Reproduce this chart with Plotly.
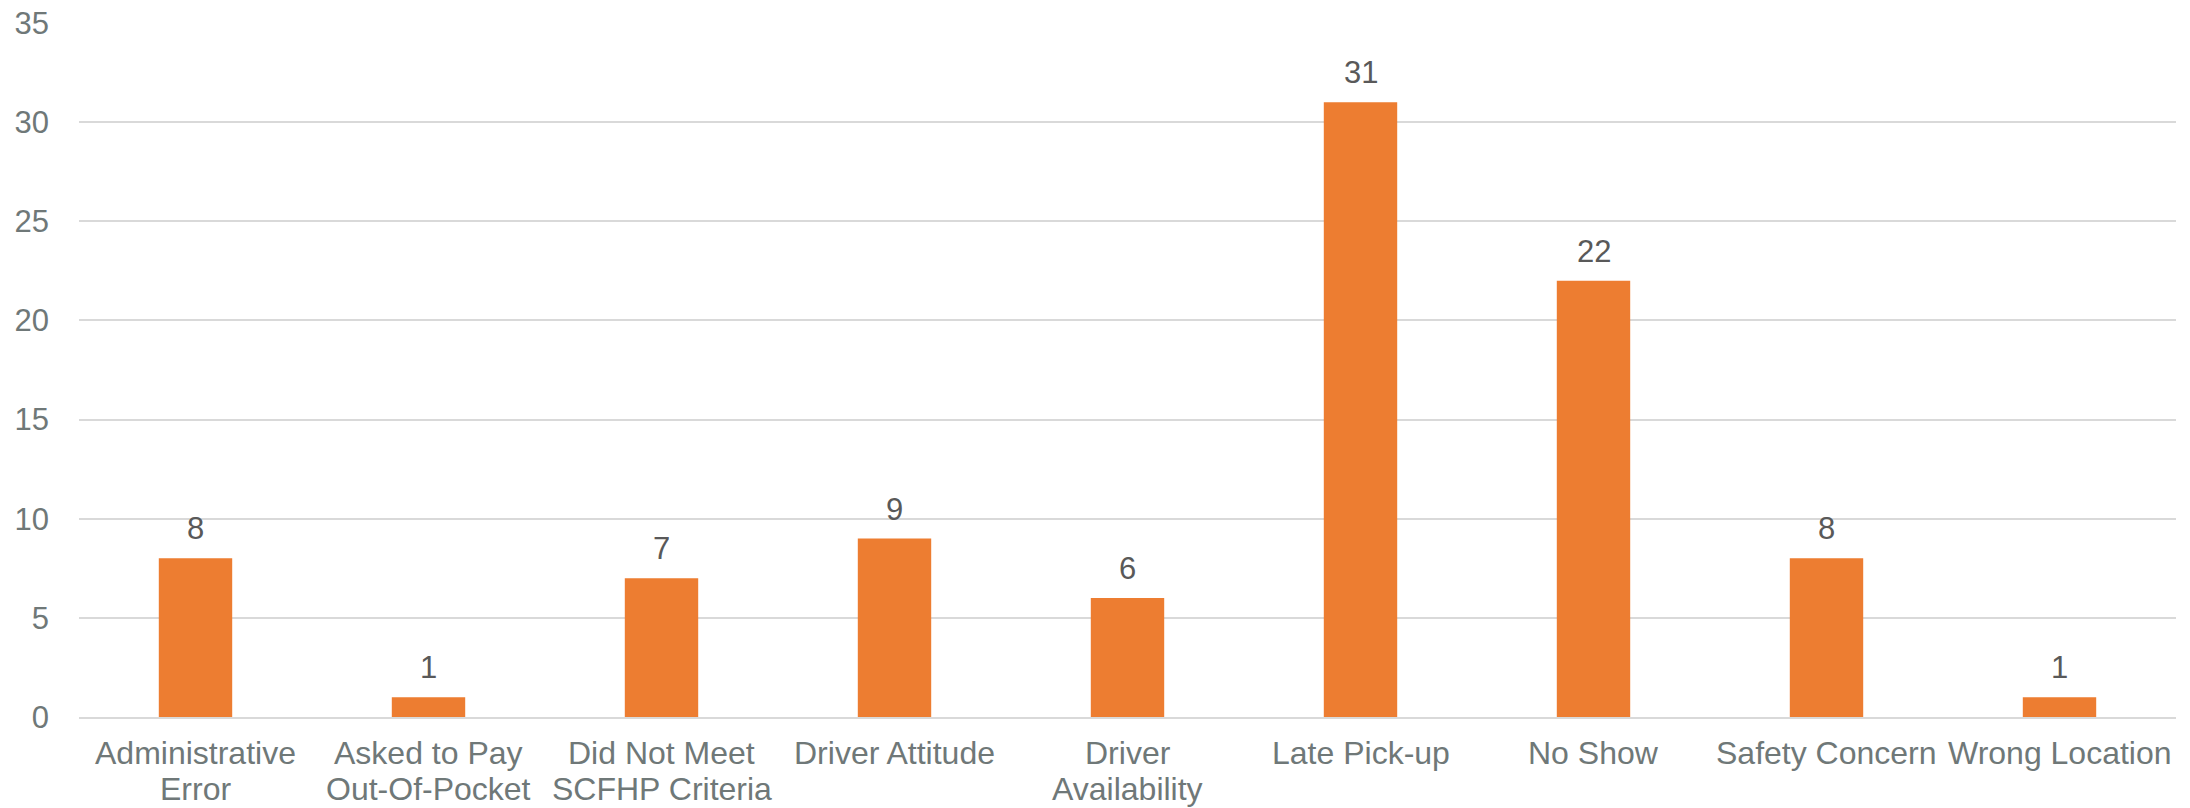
import plotly.graph_objects as go

categories = ["Administrative<br>Error", "Asked to Pay<br>Out-Of-Pocket", "Did Not Meet<br>SCFHP Criteria",
              "Driver Attitude", "Driver<br>Availability", "Late Pick-up", "No Show",
              "Safety Concern", "Wrong Location"]
values = [8, 1, 7, 9, 6, 31, 22, 8, 1]
y_ticks = [0, 5, 10, 15, 20, 25, 30, 35]

FONT = "Liberation Sans, Arial, sans-serif"
AXIS_COLOR = "#6F7878"
LABEL_COLOR = "#595959"

fig = go.Figure()
fig.add_trace(go.Bar(x=categories, y=values, marker_color="#ED7D31",
                     marker_line_width=0, hoverinfo="skip"))

# data labels
for c, v in zip(categories, values):
    fig.add_annotation(x=c, y=v, text=str(v), showarrow=False, yanchor="bottom",
                       yshift=10, font=dict(family=FONT, size=31, color=LABEL_COLOR))

# category labels (tighter line spacing than plotly tick labels allow)
for c in categories:
    for i, line in enumerate(c.split("<br>")):
        fig.add_annotation(x=c, y=0, text=line, showarrow=False, yanchor="bottom",
                           yshift=-56 - 36 * i,
                           font=dict(family=FONT, size=32, color=AXIS_COLOR))

fig.update_layout(
    width=2190, height=808,
    margin=dict(l=79, r=14, t=23, b=91),
    paper_bgcolor="white", plot_bgcolor="white",
    bargap=0.685,
    showlegend=False,
    font=dict(family=FONT, size=31, color=AXIS_COLOR),
    xaxis=dict(showgrid=False, showline=True, linecolor="#D9D9D9", linewidth=2,
               ticks="", showticklabels=False, automargin=False),
    yaxis=dict(range=[0, 35], tickvals=y_ticks, showgrid=True, gridcolor="#D9D9D9",
               gridwidth=2, zeroline=False, showline=False, ticks="",
               ticklabelstandoff=29,
               tickfont=dict(size=31, color=AXIS_COLOR), automargin=False),
)

fig.write_html("out.html")
